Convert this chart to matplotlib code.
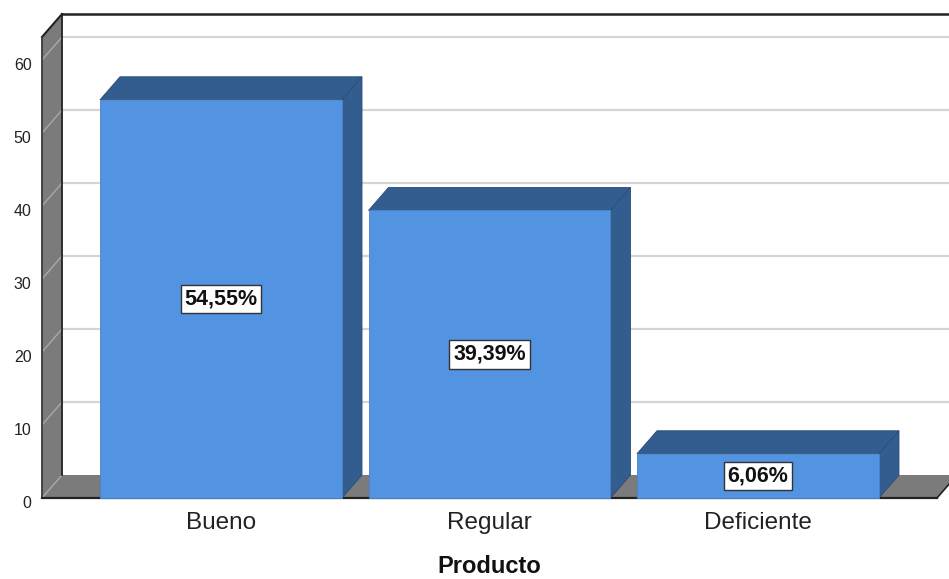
import matplotlib
matplotlib.use('Agg')
import matplotlib.pyplot as plt
from matplotlib.patches import Polygon
import matplotlib.transforms as mtransforms

plt.rcParams['font.family'] = ['Liberation Sans', 'DejaVu Sans']

categories = ['Bueno', 'Regular', 'Deficiente']
percents = [54.55, 39.39, 6.06]
y_ticks = [0, 10, 20, 30, 40, 50, 60]

front_col = '#5294e2'
dark_col = '#335c8f'
wall_col = '#7b7b7b'
grid_col = '#d4d4d4'

fig = plt.figure(figsize=(9.49, 5.79), dpi=100)
ax = fig.add_axes([42 / 949, 81 / 579, 895 / 949, 461 / 579])
x0, x1 = -0.6667, 2.6667
y0, y1 = 0, 63.15
ax.set_xlim(x0, x1)
ax.set_ylim(y0, y1)
ax.set_frame_on(False)

# depth offset in data units (about 20 px right, 23 px up)
dx = 20 / 268.5
dy = 23 / 7.3
w = 0.9013


def poly(pts, fc, ec='none', lw=0.0, z=1):
    p = Polygon(pts, closed=True, facecolor=fc, edgecolor=ec, linewidth=lw,
                clip_on=False, zorder=z)
    ax.add_patch(p)


# back wall gridlines
for v in y_ticks[1:]:
    ax.plot([x0 + dx, x1 + dx], [v + dy, v + dy], color=grid_col, lw=1.6,
            clip_on=False, zorder=1, solid_capstyle='butt')

# left wall
poly([(x0, y0), (x0 + dx, y0 + dy), (x0 + dx, y1 + dy), (x0, y1)], wall_col, z=2)
for v in y_ticks:
    ax.plot([x0, x0 + dx], [v, v + dy], color='#a9a9a9', lw=1.0,
            clip_on=False, zorder=3)

# floor
poly([(x0, y0), (x0 + dx, y0 + dy), (x1 + dx, y0 + dy), (x1, y0)], wall_col, z=2)

# outline lines
ax.plot([x0 + dx, x1 + dx], [y1 + dy, y1 + dy], color='#222222', lw=1.8,
        clip_on=False, zorder=4)
ax.plot([x0, x0 + dx], [y1, y1 + dy], color='#222222', lw=1.5, clip_on=False, zorder=4)
ax.plot([x0 + dx, x0 + dx], [y0 + dy, y1 + dy], color='#222222', lw=1.3,
        clip_on=False, zorder=4)
ax.plot([x0, x0], [y0, y1], color='#3a3a3a', lw=1.3, clip_on=False, zorder=4)
ax.plot([x0, x1], [y0, y0], color='#222222', lw=1.6, clip_on=False, zorder=4)
ax.plot([x1, x1 + dx], [y0, y0 + dy], color='#222222', lw=1.2, clip_on=False, zorder=4)

# bars
for i, v in enumerate(percents):
    l, r = i - w / 2, i + w / 2
    poly([(l, v), (l + dx, v + dy), (r + dx, v + dy), (r, v)], dark_col,
         ec='#2a4c78', lw=0.6, z=5)
    poly([(r, 0), (r + dx, dy), (r + dx, v + dy), (r, v)], dark_col,
         ec='#2a4c78', lw=0.6, z=5)
    poly([(l, 0), (l, v), (r, v), (r, 0)], front_col, ec='#4a84c8', lw=0.6, z=6)
    ax.text(i, v / 2, f'{v:.2f}'.replace('.', ',') + '%', ha='center', va='center',
            fontsize=15.5, fontweight='bold', color='#111111', zorder=7,
            bbox=dict(boxstyle='square,pad=0.18', fc='white', ec='#333333', lw=1.0))

ax.set_yticks(y_ticks)
ax.set_yticklabels([str(t) for t in y_ticks], fontsize=11.5, color='#222222')
ax.set_xticks(range(len(categories)))
ax.set_xticklabels(categories, fontsize=17.5, color='#222222')
ax.tick_params(axis='y', length=0, pad=7.5)
ax.tick_params(axis='x', length=0, pad=10)
shift = mtransforms.ScaledTranslation(0, -3 / 72, fig.dpi_scale_trans)
for lab in ax.get_yticklabels():
    lab.set_transform(lab.get_transform() + shift)
ax.set_xlabel('Producto', fontsize=17, fontweight='bold', labelpad=15, color='#111111')

fig.savefig('out.png', dpi=100)
